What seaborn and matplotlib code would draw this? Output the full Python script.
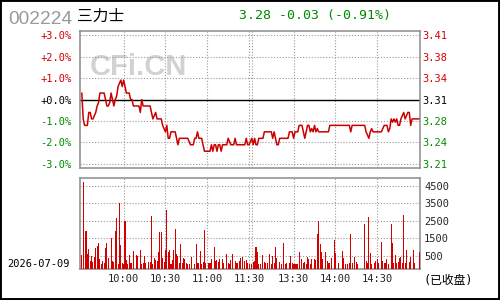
import numpy as np
import pandas as pd
import matplotlib
matplotlib.use("Agg")
import matplotlib.pyplot as plt
import seaborn as sns
from matplotlib.patches import Rectangle

# ---------------- data ----------------
code = "002224"
name = "三力士"
trade_date = "2026-07-09"
status = "(已收盘)"
watermark = "CFi.CN"
prev_close = 3.31

pct_ticks = [3, 2, 1, 0, -1, -2, -3]
vol_ticks = [500, 1500, 2500, 3500, 4500]
grid_times = ["10:00", "10:30", "11:00", "11:30", "13:00", "13:30", "14:00", "14:30"]
time_labels = ["10:00", "10:30", "11:00", "11:30", "", "13:30", "14:00", "14:30"]

# one value per minute, 09:30-11:30 and 13:00-15:00
price_am = [
    3.32, 3.28, 3.27, 3.27, 3.27, 3.29, 3.29, 3.28, 3.28, 3.285,
    3.29, 3.30, 3.305, 3.32, 3.32, 3.32, 3.32, 3.31, 3.30, 3.30,
    3.305, 3.32, 3.31, 3.30, 3.31, 3.315, 3.33, 3.335, 3.34, 3.33,
    3.34, 3.33, 3.32, 3.32, 3.32, 3.31, 3.31, 3.30, 3.30, 3.30,
    3.30, 3.30, 3.29, 3.31, 3.30, 3.30, 3.30, 3.30, 3.30, 3.30,
    3.29, 3.28, 3.285, 3.29, 3.28, 3.28, 3.28, 3.28, 3.27, 3.265,
    3.26, 3.27, 3.25, 3.25, 3.26, 3.26, 3.26, 3.26, 3.25, 3.24,
    3.25, 3.25, 3.25, 3.25, 3.25, 3.25, 3.25, 3.245, 3.24, 3.24,
    3.24, 3.25, 3.25, 3.26, 3.25, 3.25, 3.25, 3.24, 3.23, 3.23,
    3.23, 3.23, 3.23, 3.24, 3.23, 3.24, 3.24, 3.23, 3.24, 3.24,
    3.23, 3.24, 3.24, 3.24, 3.24, 3.25, 3.245, 3.24, 3.24, 3.24,
    3.25, 3.24, 3.24, 3.24, 3.24, 3.24, 3.24, 3.24, 3.25, 3.24,
    3.24,
]
price_pm = [
    3.25, 3.24, 3.25, 3.24, 3.24, 3.25, 3.25, 3.25, 3.25, 3.26,
    3.26, 3.26, 3.26, 3.26, 3.26, 3.25, 3.26, 3.25, 3.24, 3.24,
    3.25, 3.25, 3.25, 3.25, 3.25, 3.25, 3.25, 3.26, 3.26, 3.26,
    3.25, 3.26, 3.26, 3.26, 3.27, 3.27, 3.27, 3.26, 3.25, 3.26,
    3.27, 3.27, 3.26, 3.265, 3.26, 3.27, 3.26, 3.265, 3.26, 3.26,
    3.26, 3.26, 3.26, 3.26, 3.26, 3.26, 3.27, 3.27, 3.27, 3.27,
    3.27, 3.27, 3.27, 3.27, 3.27, 3.27, 3.27, 3.27, 3.27, 3.27,
    3.27, 3.26, 3.27, 3.27, 3.27, 3.27, 3.27, 3.27, 3.27, 3.27,
    3.27, 3.27, 3.26, 3.255, 3.25, 3.26, 3.265, 3.26, 3.26, 3.26,
    3.26, 3.26, 3.26, 3.26, 3.265, 3.27, 3.27, 3.27, 3.26, 3.265,
    3.28, 3.275, 3.28, 3.275, 3.28, 3.27, 3.27, 3.28, 3.285, 3.29,
    3.28, 3.285, 3.29, 3.29, 3.27, 3.28, 3.28, 3.28, 3.28, 3.28,
    3.28,
]
vol_am = [
    540, 4730, 0, 1946, 614, 900, 233, 519, 157, 443,
    957, 1052, 1243, 329, 43, 195, 100, 957, 1243, 386,
    0, 1529, 233, 157, 1946, 2671, 44, 3529, 1147, 100,
    60, 2519, 290, 60, 540, 100, 80, 805, 0, 540,
    500, 0, 862, 60, 100, 500, 80, 0, 157, 150,
    2790, 60, 386, 271, 200, 729, 1871, 1871, 380, 157,
    843, 3148, 750, 843, 60, 271, 862, 2060, 614, 500,
    100, 1186, 80, 386, 310, 100, 60, 60, 0, 424,
    0, 60, 1186, 100, 100, 786, 60, 150, 1986, 70,
    0, 80, 100, 310, 0, 995, 233, 271, 150, 310,
    0, 310, 100, 0, 614, 80, 60, 271, 614, 0,
    233, 80, 100, 233, 367, 424, 0, 233, 271, 70,
    60,
]
vol_pm = [
    40, 176, 233, 995, 729, 30, 30, 0, 557, 160,
    80, 80, 0, 614, 30, 500, 80, 995, 367, 0,
    160, 30, 0, 1224, 30, 80, 0, 100, 480, 80,
    30, 30, 30, 30, 710, 0, 310, 80, 130, 30,
    424, 350, 30, 310, 0, 310, 271, 1757, 2500, 1186,
    729, 310, 0, 729, 233, 100, 80, 367, 0, 1414,
    652, 0, 100, 0, 0, 767, 367, 30, 0, 30,
    80, 1757, 80, 0, 462, 176, 30, 0, 0, 0,
    0, 2329, 233, 119, 2710, 652, 30, 0, 80, 233,
    310, 80, 0, 1319, 233, 119, 80, 310, 30, 0,
    2329, 1262, 80, 557, 80, 160, 367, 424, 80, 2843,
    80, 843, 0, 176, 462, 0, 843, 80, 0, 0,
    729,
]

# ---------------- style ----------------
RED = "#d40000"
LINE_RED = "#cc0000"
GREEN = "#008a00"
GRAY_FRAME = "#8c8c8c"
GRID = "#9a9a9a"
PM_OFFSET = 122            # afternoon starts two slots after 11:30
VOL_FLOOR = -250
VOL_TOP = 4950

sns.set_style("white")
plt.rcParams["font.family"] = ["DejaVu Sans Mono", "Noto Sans CJK SC"]


def tpos(t):
    h, m = map(int, t.split(":"))
    mins = h * 60 + m
    return mins - 570 if mins <= 690 else mins - 780 + PM_OFFSET


x_am = np.arange(len(price_am))
x_pm = np.arange(len(price_pm)) + PM_OFFSET
df = pd.DataFrame({
    "pos": np.concatenate([x_am, x_pm]),
    "price": price_am + price_pm,
    "vol": vol_am + vol_pm,
})

fig = plt.figure(figsize=(5, 3), dpi=100)
fig.patch.set_facecolor("white")
ax = fig.add_axes([0.16, 0.44, 0.68, 137 / 300])
axv = fig.add_axes([0.16, 1 - 269 / 300, 0.68, 91 / 300])

xlim = (-1.3, 242.7)
grid_pos = [tpos(t) for t in grid_times]
dotted = (0, (1.0, 1.6))

# ---- price panel ----
sns.lineplot(data=df, x="pos", y="price", ax=ax, color=LINE_RED,
             linewidth=1.1, zorder=3)
ax.axhline(prev_close, color="black", linewidth=1.0, zorder=2)
ylo, yhi = prev_close * (1 - 0.032), prev_close * (1 + 0.032)
ax.set_xlim(*xlim)
ax.set_ylim(ylo, yhi)
tick_prices = [prev_close * (1 + p / 100) for p in pct_ticks]
ax.set_yticks(tick_prices)
ax.set_yticklabels([f"{p:+.1f}%" for p in pct_ticks])
ax.set_xticks(grid_pos)
ax.set_xticklabels([])
ax.grid(True, color=GRID, linestyle=dotted, linewidth=0.8)
ax.set_xlabel("")
ax.set_ylabel("")
ax.tick_params(length=0, labelsize=7.5, pad=6)


def pcol(p):
    return RED if p > 0 else ("black" if p == 0 else GREEN)


for lab, p in zip(ax.get_yticklabels(), pct_ticks):
    lab.set_color(pcol(p))

ax2 = ax.twinx()
ax2.set_ylim(ylo, yhi)
ax2.set_yticks(tick_prices)
ax2.set_yticklabels([f"{v:.2f}" for v in tick_prices])
ax2.tick_params(length=0, labelsize=7.5, pad=2)
for lab, p in zip(ax2.get_yticklabels(), pct_ticks):
    lab.set_color(pcol(p))
for sp in ax2.spines.values():
    sp.set_visible(False)

for a in (ax, axv):
    for sp in a.spines.values():
        sp.set_visible(True)
        sp.set_color(GRAY_FRAME)
        sp.set_linewidth(1.1)

ax.text(90 / 500, 1 - 75 / 300, watermark, transform=fig.transFigure,
        fontsize=21, fontweight="bold", color="#d2d2d2",
        family="Liberation Sans", ha="left", va="baseline", zorder=0.5)

# ---- volume panel ----
vmask = df["vol"] > 0
axv.bar(df.loc[vmask, "pos"], df.loc[vmask, "vol"] - VOL_FLOOR,
        bottom=VOL_FLOOR, width=0.75, color=RED, linewidth=0, zorder=3,
        antialiased=False)
axv.set_xlim(*xlim)
axv.set_ylim(VOL_FLOOR, VOL_TOP)
axv.set_xticks(grid_pos)
axv.set_xticklabels(time_labels)
axv.yaxis.tick_right()
axv.set_yticks(vol_ticks)
axv.set_yticklabels([str(v) for v in vol_ticks])
axv.grid(True, color=GRID, linestyle=dotted, linewidth=0.8)
axv.tick_params(length=0, labelsize=7.5, pad=3)
axv.tick_params(axis="x", pad=3.5)

# ---- header & footer texts ----
fig.text(8 / 500, 1 - 24 / 300, code, fontsize=13.8, color="#999999",
         family="Liberation Sans", ha="left", va="baseline")
fig.text(77 / 500, 1 - 20.5 / 300, name, fontsize=11.3, color="black",
         family="Noto Sans CJK SC", ha="left", va="baseline")
last = price_pm[-1]
chg = last - prev_close
chg_pct = chg / prev_close * 100
fig.text(239 / 500, 1 - 18.5 / 300, f"{last:.2f} {chg:+.2f} ({chg_pct:+.2f}%)",
         fontsize=9.5, color=GREEN, family="DejaVu Sans Mono",
         ha="left", va="baseline")
fig.text(7 / 500, 1 - 267 / 300, trade_date, fontsize=7.5, color="black",
         ha="left", va="baseline")
fig.text(423 / 500, 1 - 284 / 300, status, fontsize=8.5, color="black",
         family=["DejaVu Sans Mono", "Noto Sans CJK SC"],
         ha="left", va="baseline")

fig.patches.append(Rectangle((0, 0), 1, 1, transform=fig.transFigure,
                             fill=False, edgecolor="black", linewidth=2.8))

fig.savefig("out.png", dpi=100, facecolor="white")
